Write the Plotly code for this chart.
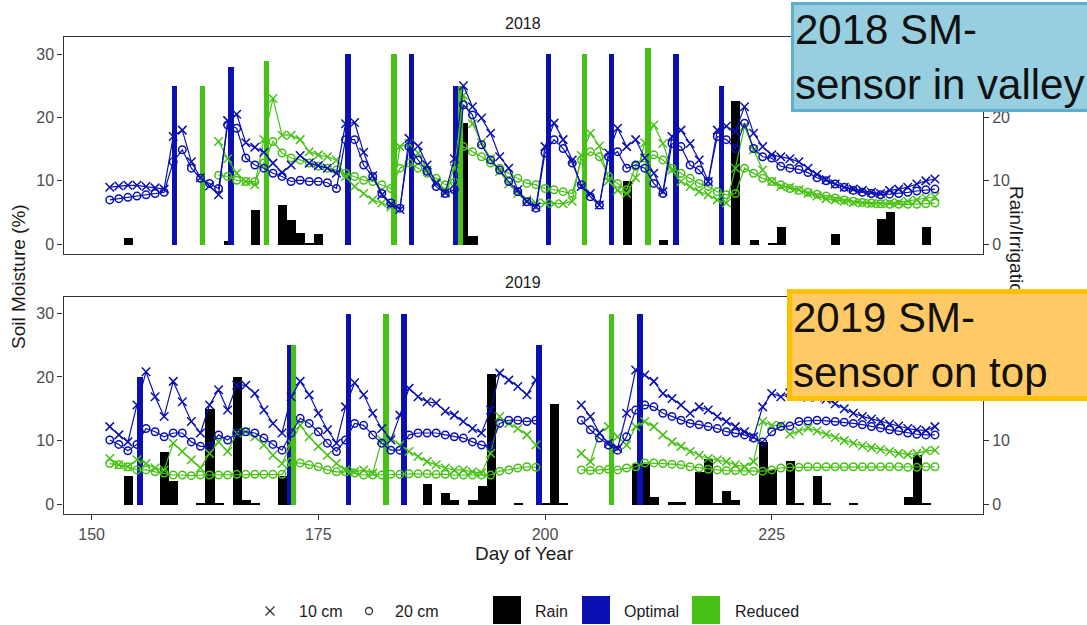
import plotly.graph_objects as go

# ---------------- data ----------------
days = list(range(152, 244))

# 2018 soil moisture (%)
opt10_2018 = [9.0, 9.2, 9.3, 9.3, 9.1, 8.9, 8.7, 17.0, 18.0, 13.0,
              10.5, 9.2, 7.8, 19.5, 20.5, 16.0, 15.3, 14.5, 12.8, 11.3,
              12.5, 14.0, 12.8, 12.4, 12.0, 11.2, 19.0, 19.2, 14.5, 10.8,
              7.8, 6.3, 5.5, 16.7, 15.5, 12.5, 9.6, 8.1, 13.5, 25.0,
              21.7, 19.9, 17.5, 13.8, 12.0, 8.6, 6.7, 5.9, 15.4, 19.1,
              16.5, 13.3, 9.1, 8.0, 6.2, 14.4, 18.3, 15.4, 16.5, 13.6,
              11.2, 8.3, 17.0, 18.0, 15.9, 13.3, 9.9, 18.0, 18.6, 17.8,
              21.7, 17.5, 15.4, 14.1, 13.8, 13.5, 13.0, 12.0, 11.0, 10.2,
              9.5, 9.0, 8.7, 8.5, 8.2, 8.0, 8.5, 8.7, 9.0, 9.5,
              10.0, 10.3]
opt20_2018 = [7.0, 7.2, 7.4, 7.6, 7.8, 8.0, 8.2, 13.0, 14.9, 12.0,
              10.4, 9.6, 8.8, 18.8, 18.3, 13.6, 12.5, 12.0, 11.2, 10.7,
              9.9, 10.1, 9.9, 9.9, 9.7, 8.8, 16.5, 16.5, 12.5, 10.7,
              8.0, 6.5, 5.7, 15.4, 13.3, 11.5, 9.1, 8.0, 8.6, 22.0,
              20.4, 15.7, 13.3, 11.7, 9.9, 8.3, 6.7, 5.7, 14.4, 16.5,
              15.1, 12.8, 9.4, 7.5, 6.2, 13.8, 14.6, 12.0, 12.5, 12.0,
              9.6, 8.0, 15.9, 15.4, 12.5, 11.7, 9.9, 17.0, 16.5, 15.1,
              19.1, 15.1, 13.8, 13.6, 12.3, 12.0, 11.8, 11.3, 10.5, 10.0,
              9.5, 9.0, 8.5, 8.2, 8.0, 7.8, 7.9, 8.0, 8.2, 8.4,
              8.6, 8.7]
red10_2018 = [None, None, None, None, None, None, None, None, None, None,
              None, None, 16.2, 13.5, 11.2, 9.9, 9.4, 16.5, 23.0, 17.2,
              17.2, 16.5, 14.6, 14.1, 13.8, 13.3, 10.7, 9.1, 8.0, 7.0,
              6.5, 5.9, 15.4, 15.9, 14.4, 11.7, 9.9, 8.3, 12.0, 23.5,
              19.0, 16.0, 13.5, 11.5, 9.5, 8.0, 7.0, 6.5, 6.5, 6.4,
              6.4, 6.8, 14.0, 17.5, 15.5, 10.0, 8.5, 8.0, 10.5, 16.0,
              18.8, 15.9, 11.7, 9.9, 9.1, 8.3, 7.8, 7.0, 6.5, 12.0,
              18.6, 14.9, 11.7, 9.9, 9.1, 9.0, 8.6, 8.0, 7.6, 7.2,
              7.0, 6.8, 6.6, 6.5, 6.4, 6.4, 6.5, 6.6, 6.8, 7.0,
              7.3, 7.5]
red20_2018 = [None, None, None, None, None, None, None, None, None, None,
              None, None, 10.9, 10.7, 10.1, 9.9, 9.9, 12.8, 16.2, 14.4,
              13.6, 13.3, 12.8, 12.3, 12.0, 11.7, 11.2, 10.7, 10.1, 9.9,
              9.4, 8.8, 12.0, 12.8, 12.0, 11.2, 10.4, 9.4, 9.8, 15.4,
              14.6, 13.8, 12.8, 12.0, 11.2, 10.4, 9.6, 9.4, 8.8, 8.6,
              8.3, 8.0, 13.3, 14.6, 13.8, 10.7, 9.6, 8.6, 12.3, 13.6,
              14.1, 13.3, 12.0, 11.2, 10.4, 9.6, 9.1, 8.3, 7.8, 8.0,
              12.0, 11.2, 10.4, 9.9, 9.4, 8.8, 8.5, 8.2, 7.9, 7.6,
              7.3, 7.0, 6.8, 6.6, 6.5, 6.4, 6.3, 6.3, 6.3, 6.3,
              6.4, 6.5]

# 2019 soil moisture (%)
opt10_2019 = [12.2, 10.9, 9.8, 15.6, 20.8, 16.9, 13.8, 19.3, 16.1, 13.0,
              11.2, 15.6, 18.0, 14.8, 18.7, 18.7, 17.4, 14.8, 12.7, 11.2,
              16.9, 19.3, 17.2, 14.3, 11.7, 9.6, 15.3, 19.1, 17.2, 14.3,
              11.9, 10.1, 14.0, 18.2, 16.9, 16.1, 15.9, 14.6, 14.0, 13.0,
              11.9, 11.2, 14.8, 20.6, 19.5, 18.5, 17.2, 19.5, None, None,
              None, None, 15.6, 13.8, 11.2, 9.6, 8.8, 14.3, 21.1, 20.3,
              19.3, 17.4, 16.6, 15.6, 14.3, 15.3, 14.8, 13.8, 13.0, 12.2,
              11.4, 10.6, 15.3, 17.4, 16.9, 17.5, 17.0, 16.8, 16.8, 16.5,
              15.8, 15.0, 14.3, 13.8, 13.4, 13.0, 12.6, 12.3, 11.9, 11.7,
              11.6, 12.2]
opt20_2019 = [10.1, 9.4, 8.4, 9.4, 11.9, 11.4, 10.6, 11.2, 11.2, 9.8,
              9.1, 9.1, 10.9, 10.1, 11.2, 11.4, 11.2, 10.4, 9.4, 8.5,
              11.2, 13.5, 12.7, 11.4, 9.6, 8.3, 10.1, 12.7, 12.4, 10.9,
              9.6, 8.5, 8.5, 10.9, 11.2, 11.2, 11.2, 10.9, 10.6, 10.4,
              9.8, 9.3, 9.1, 12.7, 13.2, 13.2, 13.0, 13.2, None, None,
              None, None, 13.2, 11.7, 10.4, 9.3, 8.5, 10.6, 14.8, 15.6,
              15.3, 14.3, 13.8, 13.2, 12.7, 12.5, 12.2, 11.9, 11.4, 11.2,
              10.9, 10.4, 9.8, 11.4, 12.2, 12.3, 13.0, 13.1, 13.2, 13.1,
              13.0, 12.9, 12.7, 12.5, 12.2, 12.0, 11.7, 11.5, 11.2, 11.0,
              10.9, 10.9]
red10_2019 = [7.2, 6.2, 5.9, 7.0, 6.4, 5.7, 5.4, 9.6, 8.3, 7.0,
              5.7, 8.0, 9.8, 8.3, 11.2, 11.4, 10.6, 9.3, 7.7, 6.4,
              9.6, 12.4, 10.6, 9.1, 7.7, 6.4, 5.4, 5.1, 5.4, 4.9,
              10.1, 10.4, 9.3, 8.3, 7.5, 6.7, 6.2, 5.7, 5.4, 5.4,
              5.1, 4.9, 8.0, 13.8, 12.7, 11.9, 10.9, 9.3, None, None,
              None, None, 8.0, 6.7, 11.2, 12.2, 10.6, 9.3, 12.2, 13.0,
              12.2, 10.9, 9.8, 9.1, 8.3, 7.7, 7.2, 7.0, 6.7, 6.2,
              5.9, 6.7, 13.0, 12.4, 12.4, 11.0, 11.5, 12.0, 11.5, 11.0,
              10.5, 10.0, 9.6, 9.2, 8.9, 8.6, 8.3, 8.0, 7.8, 8.0,
              8.4, 8.5]
red20_2019 = [6.4, 6.2, 5.9, 5.4, 5.4, 5.1, 4.9, 4.6, 4.6, 4.5,
              4.6, 4.6, 4.6, 4.6, 4.7, 4.7, 4.7, 4.7, 4.7, 4.7,
              6.7, 6.5, 6.2, 5.9, 5.4, 5.1, 5.1, 4.9, 4.6, 4.6,
              4.6, 4.7, 4.7, 4.8, 4.8, 4.8, 4.7, 4.7, 4.6, 4.6,
              4.6, 4.6, 4.6, 5.2, 5.4, 5.7, 5.9, 5.8, None, None,
              None, None, 5.4, 5.3, 5.4, 5.5, 5.4, 5.7, 5.9, 6.5,
              6.5, 6.4, 6.3, 6.2, 5.9, 5.7, 5.5, 5.4, 5.3, 5.3,
              5.2, 5.2, 5.2, 5.4, 5.7, 5.8, 5.8, 5.9, 5.9, 5.9,
              5.9, 5.9, 5.9, 5.9, 5.9, 5.9, 5.9, 5.9, 5.8, 5.8,
              5.9, 5.9]

# Rain / irrigation (mm)
rain_day_2018 = [154, 165, 168, 171, 172, 173, 174, 175, 191, 192, 209, 213,
                 221, 223, 225, 226, 232, 237, 238, 242]
rain_2018 = [1.0, 0.5, 5.5, 6.2, 3.9, 1.8, 0.3, 1.6, 19.1, 1.3, 10.0, 0.8,
             22.7, 0.8, 0.3, 2.8, 1.7, 4.1, 5.1, 2.7]
opt_irr_day_2018 = [159.1, 165.3, 178.2, 185.2, 190.1, 200.3, 207.3, 214.4, 219.4]
opt_irr_2018 = [25, 28, 30, 30, 25, 30, 30, 30, 25]
red_irr_day_2018 = [162.2, 169.2, 183.3, 190.6, 204.3, 211.3]
red_irr_2018 = [25, 29, 30, 25, 30, 31]

rain_day_2019 = [154, 158, 159, 162, 163, 164, 166, 167, 168, 171, 187, 189,
                 190, 192, 193, 194, 197, 200, 201, 202, 210, 211, 212, 214,
                 215, 217, 218, 219, 220, 221, 224, 225, 227, 228, 230, 231,
                 234, 240, 241, 242]
rain_2019 = [4.5, 8.2, 3.7, 0.2, 15.0, 0.2, 20.0, 0.8, 0.2, 4.5, 3.2, 1.9,
             0.8, 0.8, 3.0, 20.5, 0.3, 0.2, 15.8, 0.2, 6.4, 6.3, 1.2, 0.4,
             0.4, 5.1, 7.2, 0.2, 2.1, 0.8, 9.8, 5.4, 6.9, 0.2, 4.5, 0.2,
             0.2, 1.2, 7.8, 0.2]
opt_irr_day_2019 = [155.3, 171.8, 178.3, 184.4, 199.3, 210.4]
opt_irr_2019 = [20, 25, 30, 30, 25, 30]
red_irr_day_2019 = [172.2, 182.4, 207.3]
red_irr_2019 = [25, 30, 30]

x_ticks = [150, 175, 200, 225]
y_ticks = [0, 10, 20, 30]
y_ticktext = ["0", "10", "20", "30"]
# right-hand labels that sit under the call-out boxes in the reference
right_ticktext_2018 = ["0", "10", "20", ""]
right_ticktext_2019 = ["0", "10", "", ""]

# ---------------- style ----------------
BLUE = "#0B10B3"
GREEN = "#46C214"
BLACK = "#000000"
FONT = "Liberation Sans, Arial, sans-serif"
W, H = 1087, 625


def px(x):
    return x / W


def py(y):
    return 1 - y / H


fig = go.Figure()

panels = [
    ("x", "y", "y3", rain_day_2018, rain_2018, opt_irr_day_2018, opt_irr_2018,
     red_irr_day_2018, red_irr_2018, opt10_2018, opt20_2018, red10_2018, red20_2018),
    ("x2", "y2", "y4", rain_day_2019, rain_2019, opt_irr_day_2019, opt_irr_2019,
     red_irr_day_2019, red_irr_2019, opt10_2019, opt20_2019, red10_2019, red20_2019),
]

for (xa, ya, yl, rd, rv, od, ov, gd, gv, o10, o20, r10, r20) in panels:
    fig.add_trace(go.Bar(x=rd, y=rv, width=1.0, marker=dict(color=BLACK, line=dict(width=0)),
                         xaxis=xa, yaxis=ya, showlegend=False, name="Rain"))
    fig.add_trace(go.Bar(x=od, y=ov, width=0.6, marker=dict(color=BLUE, line=dict(width=0)),
                         xaxis=xa, yaxis=ya, showlegend=False, name="Optimal"))
    fig.add_trace(go.Bar(x=gd, y=gv, width=0.6, marker=dict(color=GREEN, line=dict(width=0)),
                         xaxis=xa, yaxis=ya, showlegend=False, name="Reduced"))
    for vals, col, sym, size in [(r20, GREEN, "circle-open", 7.5), (r10, GREEN, "x-thin", 8.5),
                                 (o20, BLUE, "circle-open", 7.5), (o10, BLUE, "x-thin", 8.5)]:
        fig.add_trace(go.Scatter(
            x=days, y=vals, mode="lines+markers", connectgaps=False,
            line=dict(color=col, width=1.2),
            marker=dict(symbol=sym, size=size, color=col, line=dict(color=col, width=1.5)),
            xaxis=xa, yaxis=yl, showlegend=False))

axis_line = dict(showline=True, linecolor="#333333", linewidth=1.3, mirror=True,
                 showgrid=False, zeroline=False)
tickfont = dict(family=FONT, size=16, color="#4D4D4D")
tk = dict(ticks="outside", ticklen=5, tickcolor="#333333", tickwidth=1.2, tickfont=tickfont)
xdom = [px(63.5), px(983)]
ydom_top = [py(254), py(36.7)]
ydom_bot = [py(514.3), py(296.7)]
yr_top = [-1.53, 32.73]
yr_bot = [-1.57, 32.6]

fig.update_layout(
    width=W, height=H, autosize=False,
    margin=dict(l=0, r=0, t=0, b=0),
    paper_bgcolor="white", plot_bgcolor="white",
    barmode="overlay", bargap=0,
    font=dict(family=FONT),
    xaxis=dict(domain=xdom, range=[146.9, 248.3], anchor="y", showticklabels=False,
               ticks="", **axis_line),
    xaxis2=dict(domain=xdom, range=[146.9, 248.3], anchor="y2", tickvals=x_ticks,
                **tk, **axis_line),
    yaxis=dict(domain=ydom_top, range=yr_top, anchor="x", tickvals=y_ticks,
               ticktext=y_ticktext, **tk, **axis_line),
    yaxis2=dict(domain=ydom_bot, range=yr_bot, anchor="x2", tickvals=y_ticks,
                ticktext=y_ticktext, **tk, **axis_line),
    yaxis3=dict(overlaying="y", side="right", anchor="x", range=yr_top, tickvals=y_ticks,
                ticktext=right_ticktext_2018, **tk,
                showline=False, showgrid=False, zeroline=False),
    yaxis4=dict(overlaying="y2", side="right", anchor="x2", range=yr_bot, tickvals=y_ticks,
                ticktext=right_ticktext_2019, **tk,
                showline=False, showgrid=False, zeroline=False),
)

ann = []
txt = dict(family=FONT, color="#1A1A1A")
base = dict(xref="paper", yref="paper", showarrow=False, xanchor="center", yanchor="middle")
ann.append(dict(text="2018", x=px(523), y=py(24), font=dict(size=16, **txt), **base))
ann.append(dict(text="2019", x=px(523), y=py(282), font=dict(size=16, **txt), **base))
ann.append(dict(text="Soil Moisture (%)", x=px(18), y=py(277), textangle=-90,
                font=dict(size=19, **txt), **base))
ann.append(dict(text="Day of Year", x=px(524), y=py(553), font=dict(size=19, **txt), **base))
ann.append(dict(text="Rain/Irrigation (mm)", x=px(1017), y=py(184), xref="paper",
                yref="paper", xanchor="center", yanchor="top", textangle=90,
                showarrow=False, font=dict(size=19, **txt)))

# legend texts
for label, xl in [("10 cm", 297), ("20 cm", 393), ("Rain", 533), ("Optimal", 622),
                  ("Reduced", 733)]:
    ann.append(dict(text=label, x=px(xl), y=py(611), xref="paper", yref="paper",
                    xanchor="left", yanchor="middle", showarrow=False,
                    font=dict(size=16, family=FONT, color="#1A1A1A")))

# call-out boxes
ann.append(dict(text="2018 SM-<br>sensor in valley", x=px(791), y=py(1.7), xref="paper",
                yref="paper", xanchor="left", yanchor="top", align="left", valign="middle",
                width=330, height=102, borderpad=1, borderwidth=3,
                bgcolor="#97CFE0", bordercolor="#5FAECB", showarrow=False,
                font=dict(size=42, family=FONT, color="#111111")))
ann.append(dict(text="2019 SM-<br>sensor on top", x=px(787), y=py(289), xref="paper",
                yref="paper", xanchor="left", yanchor="top", align="left", valign="middle",
                width=330, height=100, borderpad=1, borderwidth=5,
                bgcolor="#FFCA66", bordercolor="#FFC000", showarrow=False,
                font=dict(size=42, family=FONT, color="#111111")))
fig.update_layout(annotations=ann)

shapes = []
# legend keys: x marker, circle, filled squares
shapes.append(dict(type="line", xref="paper", yref="paper", x0=px(265.5), x1=px(274.5),
                   y0=py(606.5), y1=py(615.5), line=dict(color="#333333", width=1.3)))
shapes.append(dict(type="line", xref="paper", yref="paper", x0=px(265.5), x1=px(274.5),
                   y0=py(615.5), y1=py(606.5), line=dict(color="#333333", width=1.3)))
shapes.append(dict(type="circle", xref="paper", yref="paper", x0=px(365.5), x1=px(372.5),
                   y0=py(614.5), y1=py(607.5), line=dict(color="#333333", width=1.3)))
for xl, col in [(493, BLACK), (582, BLUE), (692, GREEN)]:
    shapes.append(dict(type="rect", xref="paper", yref="paper", x0=px(xl), x1=px(xl + 28),
                       y0=py(624), y1=py(596), fillcolor=col, line=dict(width=0)))
fig.update_layout(shapes=shapes)

fig.write_html("out.html")
